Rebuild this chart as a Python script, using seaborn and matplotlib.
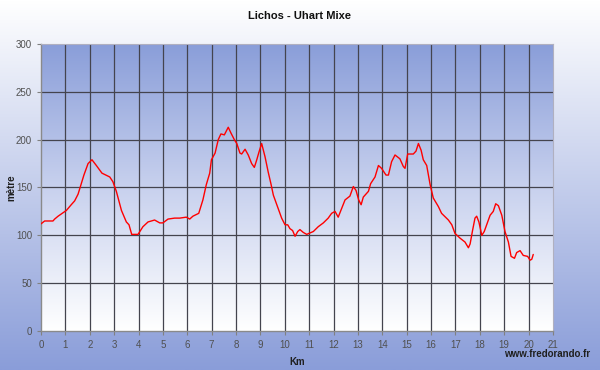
import numpy as np
import pandas as pd
import matplotlib
matplotlib.use("Agg")
import matplotlib.pyplot as plt
import seaborn as sns
from matplotlib.colors import LinearSegmentedColormap

title = "Lichos - Uhart Mixe"
x_label = "Km"
y_label = "mètre"
credit = "www.fredorando.fr"

km = [
    0.00, 0.15, 0.49, 0.56, 0.70, 1.04, 1.24, 1.38, 1.52, 1.63,
    1.76, 1.93, 2.09, 2.27, 2.50, 2.82, 2.95, 3.09, 3.30, 3.50,
    3.61, 3.72, 3.98, 4.18, 4.39, 4.66, 4.87, 5.00, 5.21, 5.48,
    5.69, 5.96, 6.10, 6.23, 6.47, 6.64, 6.78, 6.92, 6.99, 7.14,
    7.27, 7.38, 7.52, 7.68, 7.79, 7.93, 8.03, 8.16, 8.23, 8.37,
    8.50, 8.64, 8.75, 8.85, 8.94, 9.05, 9.19, 9.32, 9.43, 9.53,
    9.67, 9.87, 10.01, 10.12, 10.21, 10.32, 10.42, 10.53, 10.62, 10.76,
    10.90, 11.17, 11.37, 11.58, 11.78, 11.92, 12.06, 12.19, 12.33, 12.47,
    12.67, 12.81, 12.92, 13.03, 13.13, 13.22, 13.43, 13.52, 13.70, 13.84,
    13.97, 14.15, 14.25, 14.38, 14.52, 14.72, 14.86, 14.93, 15.04, 15.27,
    15.38, 15.48, 15.59, 15.68, 15.82, 15.96, 16.09, 16.30, 16.43, 16.71,
    16.85, 16.98, 17.19, 17.39, 17.53, 17.60, 17.70, 17.80, 17.87, 17.96,
    18.08, 18.18, 18.32, 18.42, 18.55, 18.65, 18.76, 18.90, 19.03, 19.17,
    19.28, 19.42, 19.51, 19.65, 19.78, 19.96, 20.06, 20.13, 20.19,
]
elevation = [
    112, 115, 115, 117, 120, 126, 132, 136, 143, 152,
    163, 175, 179, 173, 165, 161, 156, 146, 126, 114,
    111, 101, 101, 109, 114, 116, 113, 113, 117, 118,
    118, 119, 117, 120, 123, 137, 153, 165, 179, 186,
    200, 206, 205, 213, 207, 200, 196, 186, 185, 190,
    184, 175, 171, 179, 187, 196, 182, 166, 154, 142,
    132, 118, 111, 111, 107, 105, 99, 104, 106, 103,
    101, 104, 109, 113, 118, 123, 125, 119, 128, 137,
    141, 151, 147, 137, 132, 140, 146, 154, 161, 173,
    170, 163, 163, 177, 184, 180, 172, 170, 185, 185,
    188, 196, 189, 179, 173, 153, 139, 130, 123, 116,
    111, 102, 97, 93, 87, 91, 105, 118, 120, 114,
    100, 104, 114, 121, 125, 133, 131, 121, 104, 93,
    78, 76, 82, 84, 79, 78, 74, 75, 80,
]
x_ticks = list(range(0, 22))
y_ticks = [0, 50, 100, 150, 200, 250, 300]

df = pd.DataFrame({"km": km, "elev": elevation})

sns.set_theme(style="white")
plt.rcParams["font.family"] = ["Liberation Sans", "DejaVu Sans"]

fig = plt.figure(figsize=(6.0, 3.7), dpi=100)

# figure background gradient: white top -> blue bottom
bg = fig.add_axes([0, 0, 1, 1], zorder=-10)
bg_cmap = LinearSegmentedColormap.from_list("bg", ["#ffffff", "#8a9dd9"])
grad = np.linspace(0, 1, 256).reshape(-1, 1)
bg.imshow(grad, aspect="auto", cmap=bg_cmap, extent=[0, 1, 0, 1], origin="upper")
bg.set_axis_off()

ax = fig.add_axes([41 / 600, 1 - 331 / 370, 512 / 600, 287 / 370])
ax.set_xlim(0, 21)
ax.set_ylim(0, 300)
plot_cmap = LinearSegmentedColormap.from_list("pl", ["#8a9ed9", "#c8d1ee", "#ffffff"])
ax.imshow(grad, aspect="auto", cmap=plot_cmap, extent=[0, 21, 0, 300],
          origin="upper", zorder=0)

for xv in x_ticks[1:-1]:
    ax.axvline(xv, color="#44444e", lw=0.9, zorder=1)
for yv in y_ticks[1:-1]:
    ax.axhline(yv, color="#44444e", lw=0.9, zorder=1)

sns.lineplot(data=df, x="km", y="elev", ax=ax, color="#ff0000", lw=1.0,
             zorder=3, estimator=None, sort=False)

ax.set_xticks(x_ticks)
ax.set_yticks(y_ticks)
ax.tick_params(axis="both", labelsize=7, labelcolor="#505050", color="#808080",
               length=3, width=0.8, direction="out", bottom=True, left=True)
ax.set_xlabel(x_label, fontsize=7, fontweight="bold", color="#202020")
ax.set_ylabel(y_label, fontsize=7, fontweight="bold", color="#202020")
ax.xaxis.set_label_coords(0.5, (331 - 357) / 287)
ax.yaxis.set_label_coords((16 - 41) / 512, 0.5)
for side in ["left", "bottom"]:
    ax.spines[side].set_color("#8a8a8a")
    ax.spines[side].set_linewidth(1.0)
for side in ["top", "right"]:
    ax.spines[side].set_color("#b0b0c0")
    ax.spines[side].set_linewidth(0.8)
ax.grid(False)

fig.text(0.5, 1 - 16 / 370, title, ha="center", va="center", fontsize=8,
         fontweight="bold", color="#101010")
fig.text(590 / 600, 1 - 354 / 370, credit, ha="right", va="center", fontsize=7,
         fontweight="bold", color="#202020")

fig.savefig("out.png", dpi=100)
